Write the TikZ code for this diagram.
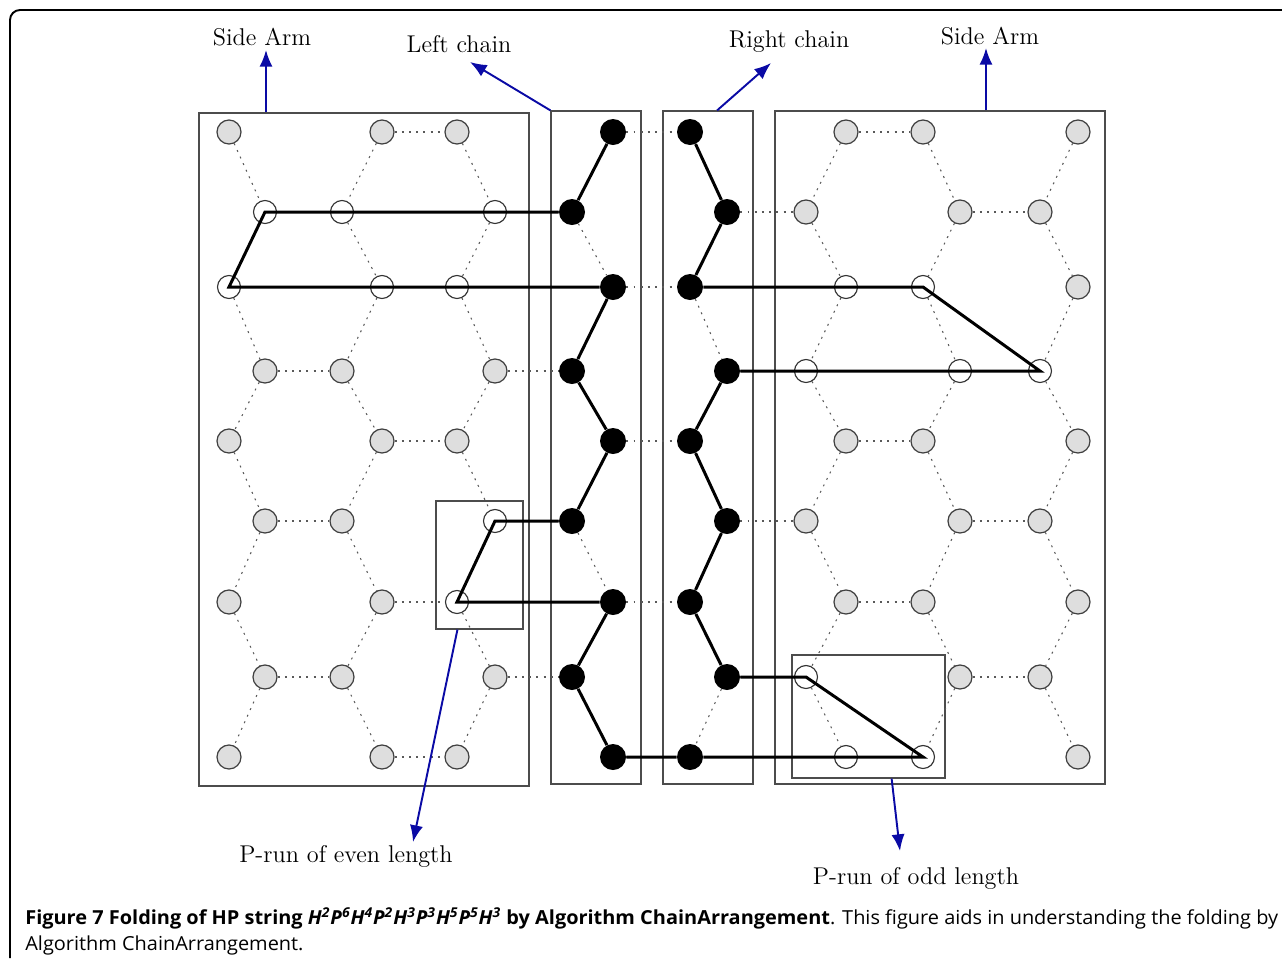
\documentclass[tikz,border=0pt]{standalone}
\usepackage{fontspec}
\newfontfamily\capfont{Open Sans}
\usetikzlibrary{arrows.meta,fit,calc}
\definecolor{pointerblue}{RGB}{10,10,165}
\definecolor{sitegray}{RGB}{222,222,222}
% one zigzag column of the lattice: name, x on odd rows, x on even rows, kinds
\newcommand\latticecol[4]{%
  \foreach \k [count=\i] in {#4} {
    \ifodd\i \def\x{#2}\else \def\x{#3}\fi
    \pgfmathsetmacro\y{{132,212,287,371,441,521,602,677,757}[\i-1]}
    \node[\k] (#1\i) at (\x,\y) {};
  }%
}
\begin{document}
\begin{tikzpicture}[x=0.02cm,y=-0.02cm,
  site/.style={circle,draw=black!75,fill=sitegray,line width=0.7pt,minimum size=0.48cm,inner sep=0},
  pbead/.style={circle,draw=black!80,fill=white,line width=0.65pt,minimum size=0.46cm,inner sep=0},
  hbead/.style={circle,fill=black,minimum size=0.52cm,inner sep=0},
  bond/.style={black!65,line width=0.6pt,dash pattern=on 1.1pt off 3pt},
  chain/.style={black,line width=1.7pt,line join=miter},
  region/.style={draw=black!70,line width=0.7pt,inner sep=0},
  pointer/.style={pointerblue,line width=1.1pt,-{Latex[length=9.5pt,width=7.5pt]}},
  lbl/.style={font=\fontsize{13.8}{16}\selectfont}]
\useasboundingbox (0,0) rectangle (1282,958);
\draw[line width=1.1pt,rounded corners=0.2cm] (10,958) -- (10,10) -- (1282,10);

% boxes
\node[region,fit={(199,113) (529,786)}] (leftarm) {};
\node[region,fit={(551,111) (641,784)}] (leftchain) {};
\node[region,fit={(663,111) (753,784)}] (rightchain) {};
\node[region,fit={(775,111) (1105,784)}] (rightarm) {};
\node[region,fit={(436,501) (523,629)}] (evenrun) {};
\node[region,fit={(792,655) (945,778)}] (oddrun) {};

% lattice sites
\latticecol{a}{229}{265}{site,pbead,pbead,site,site,site,site,site,site}
\latticecol{b}{382}{342}{site,pbead,pbead,site,site,site,site,site,site}
\latticecol{c}{457}{495}{site,pbead,pbead,site,site,pbead,pbead,site,site}
\latticecol{l}{613}{572}{hbead,hbead,hbead,hbead,hbead,hbead,hbead,hbead,hbead}
\latticecol{r}{690}{727}{hbead,hbead,hbead,hbead,hbead,hbead,hbead,hbead,hbead}
\latticecol{d}{846}{806}{site,site,pbead,pbead,site,site,site,pbead,pbead}
\latticecol{e}{923}{960}{site,site,pbead,pbead,site,site,site,site,pbead}
\latticecol{f}{1078}{1040}{site,site,site,pbead,site,site,site,site,site}

% dotted lattice bonds
\foreach \col in {a,b,c,l,r,d,e,f} {
  \foreach \i in {1,...,8} {
    \pgfmathtruncatemacro\nxt{\i+1}
    \draw[bond] (\col\i) -- (\col\nxt);
  }
}
\foreach \i in {1,3,5,7,9} {
  \draw[bond] (b\i) -- (c\i);
  \draw[bond] (l\i) -- (r\i);
  \draw[bond] (d\i) -- (e\i);
}
\foreach \i in {2,4,6,8} {
  \draw[bond] (a\i) -- (b\i);
  \draw[bond] (c\i) -- (l\i);
  \draw[bond] (r\i) -- (d\i);
  \draw[bond] (e\i) -- (f\i);
}

% the folded chain
\draw[chain] (l1) -- (l2) -- (a2.center) -- (a3.center) -- (l3) -- (l4) -- (l5) -- (l6)
  -- (c6.center) -- (c7.center) -- (l7) -- (l8) -- (l9) -- (r9) -- (e9.center)
  -- (d8.center) -- (r8) -- (r7) -- (r6) -- (r5) -- (r4) -- (f4.center)
  -- (e3.center) -- (r3) -- (r2) -- (r1);

% labels and pointers
\node[lbl] (armlblL) at (262,37) {Side Arm};
\node[lbl] (leftlbl) at (459,44) {Left chain};
\node[lbl] (rightlbl) at (789,42) {Right chain};
\node[lbl] (armlblR) at (990,36) {Side Arm};
\node[lbl] (evenlbl) at (346,856) {P-run of even length};
\node[lbl] (oddlbl) at (916,878) {P-run of odd length};
\coordinate (armtipL) at (266,50);
\coordinate (lefttip) at (470,62);
\coordinate (righttip) at (771,63);
\coordinate (armtipR) at (986,48);
\coordinate (eventip) at (413,842);
\coordinate (oddtip) at (900,851);
\draw[pointer] (leftarm.north -| armtipL) -- (armtipL);
\draw[pointer] (leftchain.north west) -- (lefttip);
\draw[pointer] ($(rightchain.north west)!0.6!(rightchain.north east)$) -- (righttip);
\draw[pointer] (rightarm.north -| armtipR) -- (armtipR);
\draw[pointer] ($(evenrun.south west)!0.25!(evenrun.south east)$) -- (eventip);
\draw[pointer] ($(oddrun.south west)!0.65!(oddrun.south east)$) -- (oddtip);

% caption
\node[anchor=base west,inner sep=0] (caption) at (25,924) {\capfont\fontsize{11}{15}\selectfont
  \resizebox{25.06cm}{\height}{\begin{tabular}[t]{@{}l@{}}
  \textbf{Figure 7 Folding of HP string \textit{H\textsuperscript{2}P\textsuperscript{6}H\textsuperscript{4}P\textsuperscript{2}H\textsuperscript{3}P\textsuperscript{3}H\textsuperscript{5}P\textsuperscript{5}H\textsuperscript{3}} by Algorithm ChainArrangement}. This figure aids in understanding the folding by\\
  Algorithm ChainArrangement.
  \end{tabular}}};
\end{tikzpicture}
\end{document}
